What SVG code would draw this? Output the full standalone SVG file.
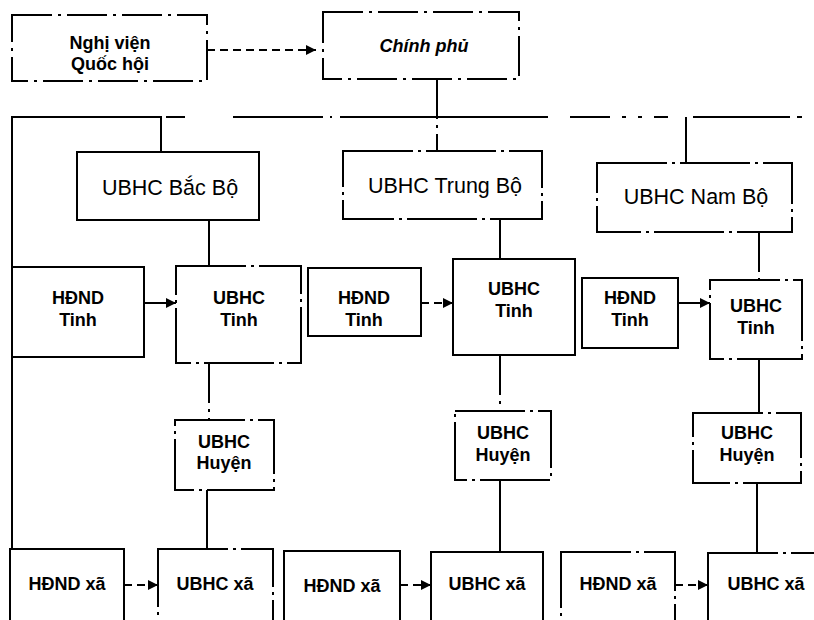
<svg xmlns="http://www.w3.org/2000/svg" width="814" height="620" viewBox="0 0 814 620">
<defs>
<marker id="ah" viewBox="0 0 10 10" refX="10" refY="5" markerWidth="10" markerHeight="10" markerUnits="userSpaceOnUse" orient="auto">
<path d="M0,0 L10,5 L0,10 Z" fill="#000"/>
</marker>
<style>
.box{fill:#fff;stroke:#000;stroke-width:2}
.brk{stroke-dasharray:70 5 3 5}
.dsh{stroke-dasharray:40 6 3 6}
.ln{fill:none;stroke:#000;stroke-width:2}
.dl{stroke-dasharray:8 5}
.t{font-family:"Liberation Sans",Arial,sans-serif;font-size:18px;font-weight:bold;text-anchor:middle;fill:#000}
.tb{font-family:"Liberation Sans",Arial,sans-serif;font-size:21.5px;text-anchor:middle;fill:#000}
</style>
</defs>
<rect width="814" height="620" fill="#fff"/>
<g id="connectors">
<path class="ln dl" d="M207,50 H316" marker-end="url(#ah)"/>
<path class="ln dsh" d="M437,79 V151"/>
<path class="ln" d="M12,620 V117 H161 V152"/>
<path class="ln" d="M166,117 H185 M233,117 H323 M330,117 H332 M340,117 H548 M570,117 H610 M622,117 H626 M638,117 H642 M654,117 H668 M693,117 H790 M797,117 H802"/>
<path class="ln" d="M686,117 V163"/>
<path class="ln" d="M209,220 V266"/>
<path class="ln" d="M500,219 V259"/>
<path class="ln dsh" d="M759,232 V280"/>
<path class="ln" d="M144,303 H176" marker-end="url(#ah)"/>
<path class="ln dl" d="M421,303 H453" marker-end="url(#ah)"/>
<path class="ln" d="M678,303 H710" marker-end="url(#ah)"/>
<path class="ln dsh" d="M209,363 V420"/>
<path class="ln dsh" d="M500,355 V411"/>
<path class="ln" d="M759,359 V413"/>
<path class="ln" d="M207,490 V549"/>
<path class="ln" d="M500,480 V552"/>
<path class="ln" d="M757,483 V553"/>
<path class="ln dl" d="M124,585 H158" marker-end="url(#ah)"/>
<path class="ln dl" d="M400,585 H431" marker-end="url(#ah)"/>
<path class="ln dl" d="M675,585 H708" marker-end="url(#ah)"/>
</g>
<g id="nghivien"><rect class="box dsh" x="12" y="15" width="195" height="66"/><text class="t" x="110" y="49">Nghị viện</text><text class="t" x="110" y="70">Quốc hội</text></g>
<g id="chinhphu"><rect class="box dsh" x="323" y="12" width="196" height="67"/><text class="t" x="424" y="52" font-style="italic" font-size="20">Chính phủ</text></g>
<g id="bacbo"><rect class="box" x="77" y="152" width="182" height="68"/><text class="tb" x="170" y="195">UBHC Bắc Bộ</text></g>
<g id="trungbo"><rect class="box brk" x="343" y="151" width="199" height="68"/><text class="tb" x="445" y="193">UBHC Trung Bộ</text></g>
<g id="nambo"><rect class="box brk" x="597" y="163" width="195" height="69"/><text class="tb" x="696" y="204">UBHC Nam Bộ</text></g>
<g id="hdnd-tinh-bac"><rect class="box" x="12" y="267" width="132" height="90"/><text class="t" x="78" y="304">HĐND</text><text class="t" x="78" y="326">Tinh</text></g>
<g id="ubhc-tinh-bac"><rect class="box brk" x="176" y="266" width="125" height="97"/><text class="t" x="239" y="304">UBHC</text><text class="t" x="239" y="326">Tinh</text></g>
<g id="hdnd-tinh-trung"><rect class="box" x="308" y="268" width="113" height="68"/><text class="t" x="364" y="304">HĐND</text><text class="t" x="364" y="326">Tinh</text></g>
<g id="ubhc-tinh-trung"><rect class="box" x="453" y="259" width="122" height="96"/><text class="t" x="514" y="295">UBHC</text><text class="t" x="514" y="317">Tinh</text></g>
<g id="hdnd-tinh-nam"><rect class="box" x="582" y="278" width="96" height="70"/><text class="t" x="630" y="304">HĐND</text><text class="t" x="630" y="326">Tinh</text></g>
<g id="ubhc-tinh-nam"><rect class="box brk" x="710" y="280" width="92" height="79"/><text class="t" x="756" y="312">UBHC</text><text class="t" x="756" y="334">Tinh</text></g>
<g id="huyen-bac"><rect class="box brk" x="175" y="420" width="99" height="70"/><text class="t" x="224" y="448">UBHC</text><text class="t" x="224" y="469">Huyện</text></g>
<g id="huyen-trung"><rect class="box brk" x="455" y="411" width="96" height="69"/><text class="t" x="503" y="439">UBHC</text><text class="t" x="503" y="461">Huyện</text></g>
<g id="huyen-nam"><rect class="box brk" x="693" y="413" width="108" height="70"/><text class="t" x="747" y="439">UBHC</text><text class="t" x="747" y="461">Huyện</text></g>
<g id="hdnd-xa-bac"><rect class="box" x="10" y="549" width="114" height="80"/><text class="t" x="67" y="590">HĐND xã</text></g>
<g id="ubhc-xa-bac"><rect class="box brk" x="158" y="549" width="115" height="80"/><text class="t" x="215" y="590">UBHC xã</text></g>
<g id="hdnd-xa-trung"><rect class="box" x="284" y="551" width="116" height="80"/><text class="t" x="342" y="592">HĐND xã</text></g>
<g id="ubhc-xa-trung"><rect class="box" x="431" y="552" width="112" height="80"/><text class="t" x="487" y="590">UBHC xã</text></g>
<g id="hdnd-xa-nam"><rect class="box brk" x="561" y="552" width="114" height="80"/><text class="t" x="618" y="590">HĐND xã</text></g>
<g id="ubhc-xa-nam"><rect class="box brk" x="708" y="553" width="120" height="80"/><text class="t" x="766" y="590">UBHC xã</text></g>
</svg>
